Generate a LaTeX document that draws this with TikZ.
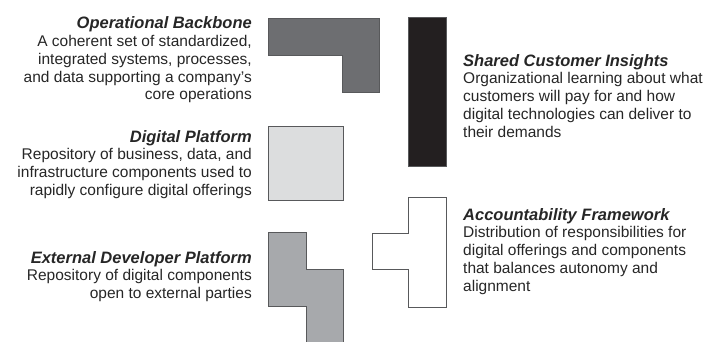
\documentclass[tikz,border=0pt]{standalone}
\usepackage{fontspec}
\setmainfont{Liberation Sans}
\usepackage{tikz}

\definecolor{backbonegray}{HTML}{6D6E71}
\definecolor{insightblack}{HTML}{231F20}
\definecolor{platformgray}{HTML}{DCDDDE}
\definecolor{externalgray}{HTML}{A7A9AC}
\definecolor{edgegray}{HTML}{58595B}

\newcommand{\blocktitle}[1]{{\fontsize{16.5}{18}\selectfont\bfseries\itshape #1}}

\begin{document}
\begin{tikzpicture}[
  x = 1pt, y = -1pt,
  piece/.style = {draw = edgegray, line width = 0.8pt, line join = miter},
  lefttext/.style = {anchor = north east, align = right, inner sep = 0pt,
    font = \fontsize{15.5}{17.8}\selectfont, text = black!85},
  righttext/.style = {anchor = north west, align = left, inner sep = 0pt,
    font = \fontsize{15.5}{17.8}\selectfont, text = black!85}
]

\useasboundingbox (0,0) rectangle (707,341);

% pieces
\draw[piece, fill = backbonegray]
  (268,18) -- (379,18) -- (379,92) -- (342,92) -- (342,55) -- (268,55) -- cycle;
\draw[piece, fill = insightblack] (408,17) rectangle (446,166);
\draw[piece, fill = platformgray] (268,126) rectangle (343,200);
\draw[piece, fill = externalgray]
  (268,232) -- (306,232) -- (306,269) -- (343,269) -- (343,345)
  -- (306,345) -- (306,306) -- (268,306) -- cycle;
\draw[piece, fill = white]
  (408,197) -- (446,197) -- (446,307) -- (408,307) -- (408,269)
  -- (372,269) -- (372,233) -- (408,233) -- cycle;

% descriptions
\node[lefttext] (backbone) at (252,16.5) {
  \blocktitle{Operational Backbone}\\
  A coherent set of standardized,\\
  integrated systems, processes,\\
  and data supporting a company’s\\
  core operations};

\node[lefttext] (platform) at (252,130) {
  \blocktitle{Digital Platform}\\
  Repository of business, data, and\\
  infrastructure components used to\\
  rapidly configure digital offerings};

\node[lefttext] (external) at (252,251) {
  \blocktitle{External Developer Platform}\\
  Repository of digital components\\
  open to external parties};

\node[righttext] (insights) at (463,54) {
  \blocktitle{Shared Customer Insights}\\
  Organizational learning about what\\
  customers will pay for and how\\
  digital technologies can deliver to\\
  their demands};

\node[righttext] (accountability) at (463,208) {
  \blocktitle{Accountability Framework}\\
  Distribution of responsibilities for\\
  digital offerings and components\\
  that balances autonomy and\\
  alignment};

\end{tikzpicture}
\end{document}
